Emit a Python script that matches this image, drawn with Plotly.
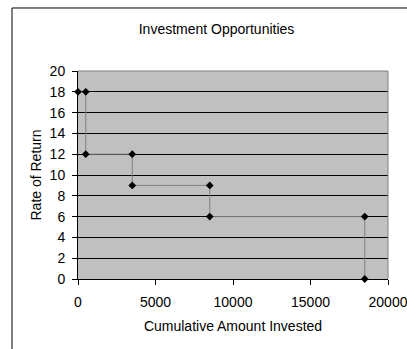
import plotly.graph_objects as go

amount_invested = [0, 500, 500, 3500, 3500, 8500, 8500, 18500, 18500]
rate_of_return = [18, 18, 12, 12, 9, 9, 6, 6, 0]

title_text = "Investment Opportunities"
x_title = "Cumulative Amount Invested"
y_title = "Rate of Return"
x_ticks = [0, 5000, 10000, 15000, 20000]
y_ticks = [0, 2, 4, 6, 8, 10, 12, 14, 16, 18, 20]

FONT = "Liberation Sans, Arial, sans-serif"

fig = go.Figure()
fig.add_trace(go.Scatter(
    x=amount_invested, y=rate_of_return, mode="lines+markers",
    line=dict(color="#808080", width=1),
    marker=dict(symbol="diamond", size=6, color="black"),
    showlegend=False, cliponaxis=False,
))

fig.update_layout(
    width=407, height=349,
    margin=dict(l=78, r=19, t=71, b=70, autoexpand=False),
    paper_bgcolor="white", plot_bgcolor="#C0C0C0",
    font=dict(family=FONT, size=14, color="black"),
    title=dict(text=title_text, x=0.532, xanchor="center", y=0.917, yanchor="middle",
               font=dict(family=FONT, size=14, color="black")),
    xaxis=dict(range=[0, 20000], tickvals=x_ticks, ticktext=[str(v) for v in x_ticks],
               automargin=False, ticklabeloverflow="allow", ticklabelstandoff=5,
               showgrid=False, zeroline=False, showline=True, linecolor="black", linewidth=1,
               ticks="outside", ticklen=5, tickcolor="black",
               title=dict(text=x_title, standoff=12, font=dict(size=14)),
               tickfont=dict(size=14)),
    yaxis=dict(range=[0, 20], tickvals=y_ticks, ticktext=[str(v) for v in y_ticks],
               automargin=False, ticklabeloverflow="allow", ticklabelstandoff=4,
               showgrid=True, gridcolor="black", gridwidth=1, zeroline=False,
               showline=True, linecolor="black", linewidth=1,
               ticks="outside", ticklen=5, tickcolor="black",
               title=dict(text=y_title, standoff=4, font=dict(size=14)),
               tickfont=dict(size=14)),
    shapes=[
        dict(type="line", xref="x domain", yref="y domain", x0=0, x1=1, y0=1, y1=1,
             line=dict(color="#808080", width=1), layer="above"),
        dict(type="line", xref="x domain", yref="y domain", x0=1, x1=1, y0=0, y1=1,
             line=dict(color="#808080", width=1), layer="above"),
        dict(type="rect", xref="paper", yref="paper", x0=-0.2129, x1=1.3, y0=-0.5, y1=1.3029,
             line=dict(color="black", width=1), fillcolor="rgba(0,0,0,0)", layer="below"),
    ],
)

fig.write_html("out.html")
